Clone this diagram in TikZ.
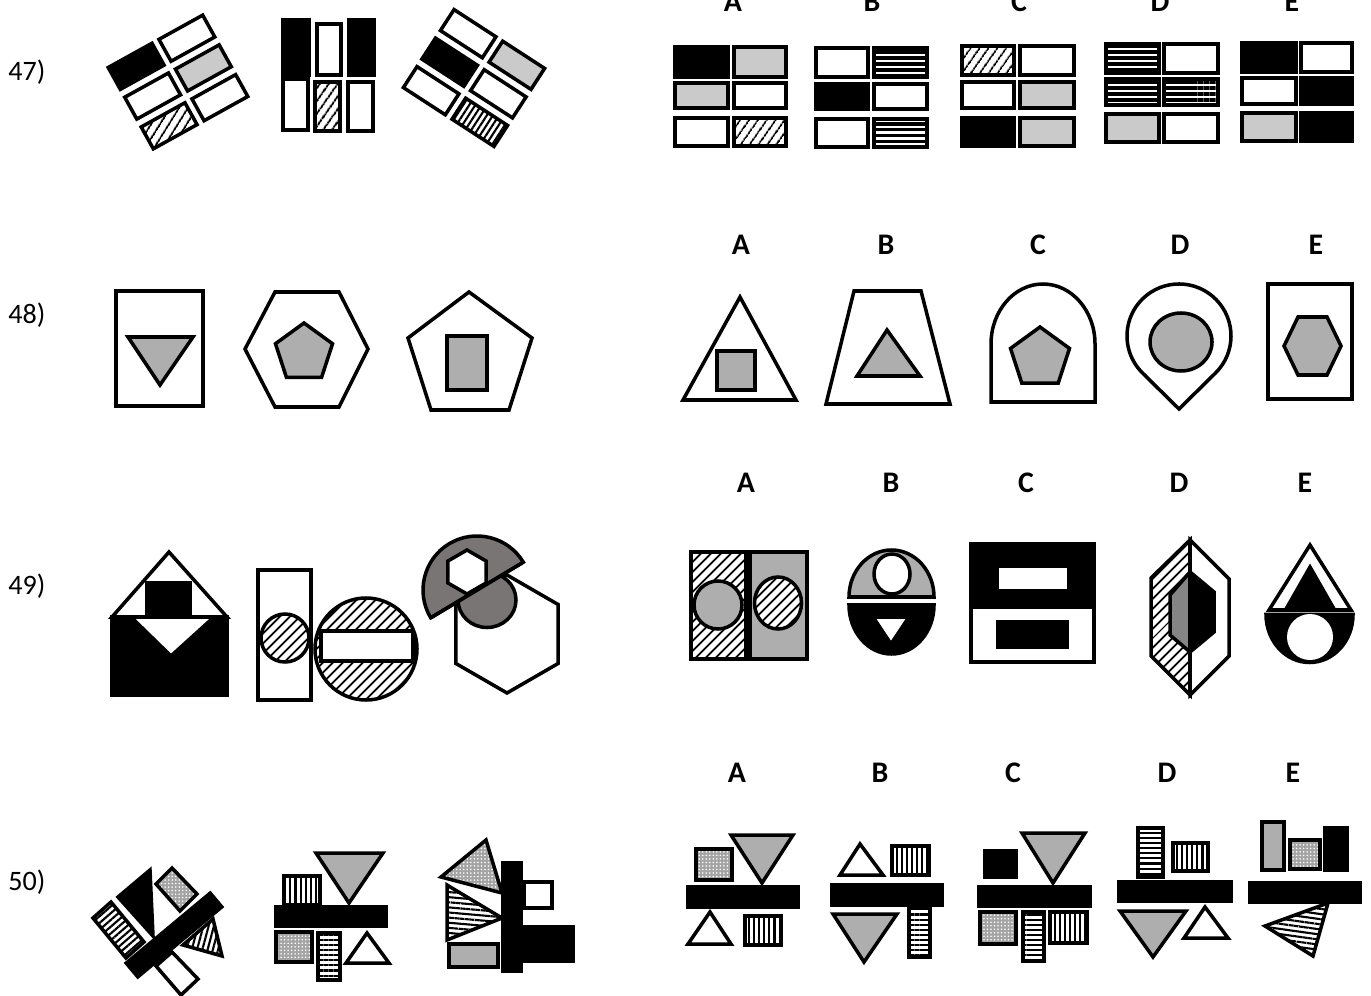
\documentclass[tikz,border=0pt]{standalone}
\usepackage{fontspec}
\setmainfont{Carlito}
\usetikzlibrary{patterns.meta}
\definecolor{Pale}{HTML}{CACACA}
\definecolor{Mid}{HTML}{AEAEAE}
\definecolor{Dark}{HTML}{7A7575}
\definecolor{Slate}{HTML}{858585}
\definecolor{Speck}{HTML}{A4A4A4}
\tikzset{ink/.style={draw=black,line width=2pt},blackf/.style={ink,fill=black},whitef/.style={ink,fill=white},palef/.style={ink,fill=Pale},midf/.style={ink,fill=Mid},darkf/.style={ink,fill=Dark},hatchf/.style={ink,preaction={fill=white},pattern={Lines[angle=#1,distance=4pt,line width=1.1pt]}},hatchf/.default=50,barsf/.style={ink,preaction={fill=white},pattern={Lines[angle=#1,distance=3.4pt,line width=1.9pt]}},barsf/.default=0,linesf/.style={ink,preaction={fill=white},pattern={Lines[angle=#1,distance=2.9pt,line width=1.2pt]}},linesf/.default=0,dotsf/.style={ink,preaction={fill=Speck},pattern={Dots[distance=2pt,radius=.5pt]},pattern color=white},rowlabel/.style={font=\fontsize{16}{19}\selectfont},optlabel/.style={font=\fontsize{17}{20}\selectfont\bfseries}}

\begin{document}
\begin{tikzpicture}[x=0.02cm,y=-0.02cm]
  \useasboundingbox (0,0) rectangle (1371,996);
  % row labels and answer letters
  \node[rowlabel] (q47) at (27,72) {47)};
  \node[rowlabel] (q48) at (27,315) {48)};
  \node[rowlabel] (q49) at (27,586) {49)};
  \node[rowlabel] (q50) at (27,882) {50)};
  \foreach \l/\x in {A/733,B/872,C/1019,D/1160,E/1292} \node[optlabel] (a47\l) at (\x,2) {\l};
  \foreach \l/\x in {A/741,B/886,C/1038,D/1180,E/1316} \node[optlabel] (a48\l) at (\x,245) {\l};
  \foreach \l/\x in {A/746,B/891,C/1026,D/1179,E/1305} \node[optlabel] (a49\l) at (\x,483) {\l};
  \foreach \l/\x in {A/737,B/880,C/1013,D/1167,E/1293} \node[optlabel] (a50\l) at (\x,773) {\l};

  % 47
  \begin{scope}[shift={(178,82)},rotate=29]
    \draw[blackf] (-54,-46.5) rectangle (-4,-21.5);
    \draw[whitef] (4,-46.5) rectangle (54,-21.5);
    \draw[whitef] (-54,-12.5) rectangle (-4,12.5);
    \draw[palef] (4,-12.5) rectangle (54,12.5);
    \draw[hatchf=58] (-54,21.5) rectangle (-4,46.5);
    \draw[whitef] (4,21.5) rectangle (54,46.5);
  \end{scope}
  \draw[blackf] (283,20) rectangle (309,75);
  \draw[whitef] (317,24) rectangle (341,75);
  \draw[blackf] (349,20) rectangle (374,75);
  \draw[whitef] (283,79) rectangle (308,130);
  \draw[hatchf=55] (315,82) rectangle (340,131);
  \draw[whitef] (348,82) rectangle (373,131);
  \begin{scope}[shift={(474,78)},rotate=-33]
    \draw[whitef] (-54,-46.5) rectangle (-4,-21.5);
    \draw[palef] (4,-46.5) rectangle (54,-21.5);
    \draw[blackf] (-54,-12.5) rectangle (-4,12.5);
    \draw[whitef] (4,-12.5) rectangle (54,12.5);
    \draw[whitef] (-54,21.5) rectangle (-4,46.5);
    \draw[linesf=57] (4,21.5) rectangle (54,46.5);
  \end{scope}
  % 47 options
  \draw[blackf] (675,47) rectangle (728,77);
  \draw[palef] (734,47) rectangle (786,77);
  \draw[palef] (675,83) rectangle (728,108);
  \draw[whitef] (734,83) rectangle (786,108);
  \draw[whitef] (675,118) rectangle (728,146);
  \draw[hatchf=55] (734,118) rectangle (786,146);
  \draw[whitef] (816,48) rectangle (868,77);
  \draw[barsf] (874,48) rectangle (927,77);
  \draw[blackf] (816,84) rectangle (868,109);
  \draw[whitef] (874,84) rectangle (927,109);
  \draw[whitef] (816,119) rectangle (868,147);
  \draw[barsf] (874,119) rectangle (927,147);
  \draw[hatchf=55] (962,46) rectangle (1014,75);
  \draw[whitef] (1020,46) rectangle (1074,75);
  \draw[whitef] (962,82) rectangle (1014,108);
  \draw[palef] (1020,82) rectangle (1074,108);
  \draw[blackf] (962,118) rectangle (1014,146);
  \draw[palef] (1020,118) rectangle (1074,146);
  \draw[barsf] (1106,44) rectangle (1159,73);
  \draw[whitef] (1164,44) rectangle (1218,73);
  \draw[barsf] (1106,79) rectangle (1159,105);
  \draw[barsf] (1164,79) rectangle (1218,105);
  \draw[palef] (1106,114) rectangle (1159,142);
  \draw[whitef] (1164,114) rectangle (1218,142);
  \draw[blackf] (1242,43) rectangle (1296,72);
  \draw[whitef] (1301,43) rectangle (1352,72);
  \draw[whitef] (1242,78) rectangle (1296,104);
  \draw[blackf] (1301,78) rectangle (1352,104);
  \draw[palef] (1242,113) rectangle (1296,141);
  \draw[blackf] (1301,113) rectangle (1352,141);

  % 48
  \draw[whitef] (116,291) rectangle (203,406);
  \draw[midf] (128,337) -- (193,337) -- (160,385) -- cycle;
  \draw[whitef] (275,292) -- (339,292) -- (368,349) -- (339,407) -- (275,407) -- (245,349) -- cycle;
  \draw[midf] (304,353) +(-90:30) -- +(-18:30) -- +(54:30) -- +(126:30) -- +(198:30) -- cycle;
  \draw[whitef] (469,292) -- (532,338) -- (509,410) -- (431,410) -- (408,338) -- cycle;
  \draw[midf] (447,336) rectangle (487,390);
  % 48 options
  \draw[whitef] (740,297) -- (796,400) -- (683,400) -- cycle;
  \draw[midf] (717,351) rectangle (755,390);
  \draw[whitef] (854,291) -- (921,291) -- (950,404) -- (826,404) -- cycle;
  \draw[midf] (887,330) -- (920,376) -- (857,376) -- cycle;
  \draw[whitef] (991,402) -- (991,344) arc[start angle=180,end angle=360,x radius=52,y radius=60] -- (1095,402) -- cycle;
  \draw[midf] (1040,358) +(-90:31) -- +(-18:31) -- +(54:31) -- +(126:31) -- +(198:31) -- cycle;
  \draw[whitef] (1179,409) -- (1215.5,373) arc[start angle=45.4,end angle=-225.4,radius=52] -- cycle;
  \draw[midf] (1181,342) ellipse[x radius=31,y radius=29];
  \draw[whitef] (1268,284) rectangle (1352,399);
  \draw[midf] (1284,346) -- (1298,317) -- (1327,317) -- (1341,346) -- (1327,375) -- (1298,375) -- cycle;

  % 49
  \draw[whitef] (169,552) -- (227,617) -- (112,617) -- cycle;
  \draw[blackf] (147,583) rectangle (190,617);
  \draw[blackf] (112,617) rectangle (227,695);
  \draw[whitef] (131,617) -- (214,617) -- (171,656) -- cycle;
  \draw[whitef] (258,570) rectangle (311,700);
  \draw[hatchf=45] (285,638) circle[radius=24];
  \draw[hatchf=45] (366,649) circle[radius=51];
  \draw[whitef] (321,631) rectangle (413,661);
  \draw[whitef] (507,634) +(-90:59) -- +(-30:59) -- +(30:59) -- +(90:59) -- +(150:59) -- +(210:59) -- cycle;
  \draw[darkf] (487,600) ellipse[x radius=29,y radius=27.5];
  \draw[darkf] (523.3,562.2) arc[start angle=-31,end angle=-211,radius=54] -- cycle;
  \draw[whitef] (467,572) +(-90:22) -- +(-30:22) -- +(30:22) -- +(90:22) -- +(150:22) -- +(210:22) -- cycle;
  \draw[ink] (523.3,562.2) -- (430.7,617.8);
  % 49 options
  \draw[hatchf=45] (691,552) rectangle (746,659);
  \draw[midf] (750,552) rectangle (807,659);
  \draw[midf] (718,605) circle[radius=24];
  \draw[hatchf=45] (778,603) ellipse[x radius=23.5,y radius=26];
  \draw[midf] (849,597) arc[start angle=180,end angle=360,x radius=42.5,y radius=47] -- cycle;
  \draw[whitef] (892,574) ellipse[x radius=18,y radius=20];
  \draw[blackf] (849,605) arc[start angle=180,end angle=0,x radius=42.5,y radius=49] -- cycle;
  \draw[whitef] (873,617) -- (909,617) -- (891,644) -- cycle;
  \draw[blackf] (971,544) rectangle (1094,607);
  \draw[whitef] (971,607) rectangle (1094,662);
  \draw[whitef] (997,566) rectangle (1069,591);
  \draw[blackf] (998,622) rectangle (1067,647);
  \draw[hatchf=45] (1190,540) -- (1151,578) -- (1151,656) -- (1190,695) -- cycle;
  \draw[whitef] (1190,540) -- (1229,579) -- (1229,656) -- (1190,695) -- cycle;
  \draw[ink,fill=Slate] (1190,572) -- (1170,595) -- (1170,635) -- (1190,652) -- cycle;
  \draw[blackf] (1190,572) -- (1214,592) -- (1214,632) -- (1190,652) -- cycle;
  \draw[ink] (1190,540) -- (1190,695);
  \draw[whitef] (1310,545) -- (1351,610) -- (1269,610) -- cycle;
  \draw[blackf] (1310,567) -- (1334,609) -- (1286,609) -- cycle;
  \draw[blackf] (1266,614.5) arc[start angle=180,end angle=0,x radius=43.5,y radius=48] -- cycle;
  \draw[fill=white,draw=none] (1310,637) circle[radius=23];

  % 50
  \draw[blackf] (118,897) -- (150,870) -- (153,936) -- cycle;
  \draw[dotsf] (156,884) -- (172,868) -- (197,894) -- (180,911) -- cycle;
  \draw[linesf=41] (93,918) -- (111,902) -- (144,942) -- (126,958) -- cycle;
  \draw[linesf=75] (183,945) -- (213,919) -- (222,956) -- cycle;
  \draw[whitef] (156,966) -- (172,952) -- (198,979) -- (181,995) -- cycle;
  \draw[blackf] (126.2,963.1) -- (210.2,893.1) -- (221.8,906.9) -- (137.8,976.9) -- cycle;
  \draw[midf] (316,853) -- (383,853) -- (349,903) -- cycle;
  \draw[linesf=90] (284,876) rectangle (320,905);
  \draw[blackf] (276,907) rectangle (386,926);
  \draw[dotsf] (276,932) rectangle (312,962);
  \draw[linesf] (318,933) rectangle (340,980);
  \draw[whitef] (367,933) -- (389,963) -- (346,963) -- cycle;
  \draw[dotsf] (441,877) -- (486,840) -- (502,893) -- cycle;
  \draw[linesf=-5] (447,885) -- (502,918) -- (447,940) -- cycle;
  \draw[blackf] (503,863) rectangle (521,971);
  \draw[whitef] (524,882) rectangle (552,908);
  \draw[blackf] (524,927) rectangle (573,961);
  \draw[midf] (449,944) rectangle (498,967);
  % 50 options
  \draw[dotsf] (696,849) rectangle (732,880);
  \draw[midf] (731,835) -- (793,835) -- (762,883) -- cycle;
  \draw[blackf] (688,887) rectangle (798,907);
  \draw[whitef] (710,912) -- (731,944) -- (688,944) -- cycle;
  \draw[linesf=90] (745,916) rectangle (781,945);
  \draw[whitef] (860,844) -- (883,875) -- (840,875) -- cycle;
  \draw[linesf=90] (892,846) rectangle (929,875);
  \draw[blackf] (832,885) rectangle (942,905);
  \draw[midf] (833,914) -- (897,914) -- (864,962) -- cycle;
  \draw[linesf] (909,908) rectangle (930,957);
  \draw[blackf] (985,851) rectangle (1016,877);
  \draw[midf] (1022,833) -- (1085,833) -- (1053,883) -- cycle;
  \draw[blackf] (979,887) rectangle (1090,906);
  \draw[dotsf] (980,912) rectangle (1016,944);
  \draw[linesf] (1023,912) rectangle (1044,961);
  \draw[linesf=90] (1050,912) rectangle (1087,943);
  \draw[linesf] (1138,828) rectangle (1163,877);
  \draw[linesf=90] (1173,843) rectangle (1208,871);
  \draw[blackf] (1119,882) rectangle (1231,901);
  \draw[midf] (1120,911) -- (1186,911) -- (1153,957) -- cycle;
  \draw[whitef] (1205,907) -- (1228,938) -- (1184,938) -- cycle;
  \draw[midf] (1262,822) rectangle (1284,870);
  \draw[dotsf] (1290,840) rectangle (1320,869);
  \draw[blackf] (1325,828) rectangle (1347,870);
  \draw[blackf] (1250,883) rectangle (1360,902);
  \draw[linesf=-8] (1328,903) -- (1313,956) -- (1265,926) -- cycle;
\end{tikzpicture}
\end{document}
